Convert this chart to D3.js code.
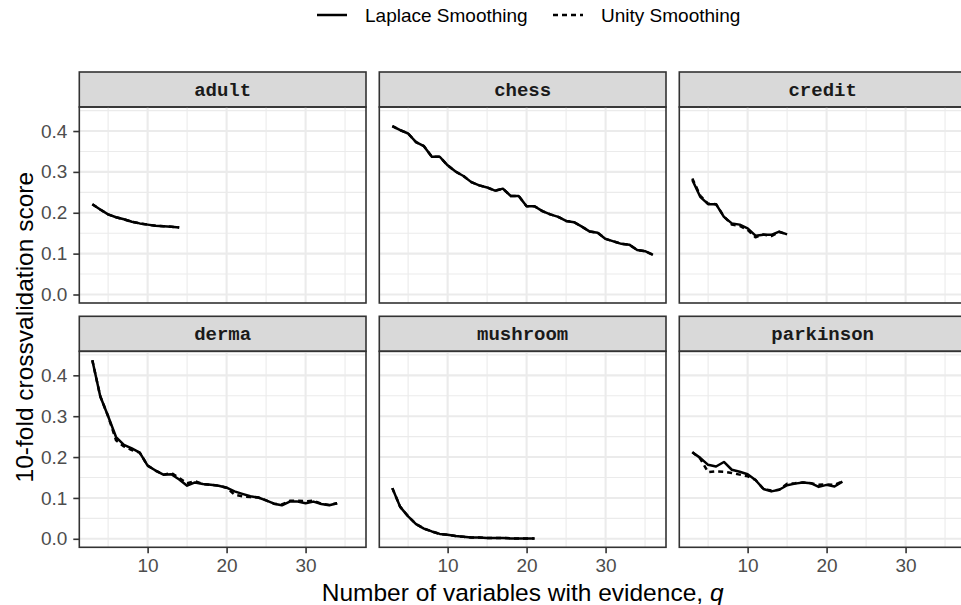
<!DOCTYPE html>
<html>
<head>
<meta charset="utf-8">
<script src="https://cdn.jsdelivr.net/npm/d3@7/dist/d3.min.js"></script>
<style>
  body { margin: 0; background: #fff; }
  svg { display: block; font-family: "Liberation Sans", Arial, sans-serif; }
</style>
</head>
<body>
<div id="chart"></div>
<script>
// facets and series
const datasets = ["adult", "chess", "credit", "derma", "mushroom", "parkinson"];
const methods = ["Laplace Smoothing", "Unity Smoothing"];
const qStart = 3; // first number of evidence variables in every run

const adultLaplace = [0.221, 0.208, 0.196, 0.189, 0.184, 0.178, 0.174, 0.171, 0.168, 0.167, 0.166, 0.164];
const adultUnity = [0.221, 0.208, 0.196, 0.189, 0.184, 0.178, 0.174, 0.171, 0.168, 0.167, 0.166, 0.164];

const chessLaplace = [0.412, 0.402, 0.394, 0.373, 0.363, 0.337, 0.337, 0.316, 0.301, 0.290, 0.275, 0.267,
  0.262, 0.254, 0.259, 0.241, 0.241, 0.216, 0.216, 0.204, 0.196, 0.190, 0.180, 0.177, 0.166, 0.154,
  0.151, 0.136, 0.130, 0.124, 0.122, 0.109, 0.106, 0.097];
const chessUnity = [0.412, 0.402, 0.394, 0.373, 0.363, 0.337, 0.337, 0.316, 0.301, 0.290, 0.275, 0.267,
  0.262, 0.254, 0.259, 0.241, 0.241, 0.216, 0.216, 0.204, 0.196, 0.190, 0.180, 0.177, 0.166, 0.154,
  0.151, 0.136, 0.130, 0.124, 0.122, 0.109, 0.106, 0.097];

const creditLaplace = [0.280, 0.239, 0.221, 0.221, 0.190, 0.174, 0.171, 0.162, 0.144, 0.146, 0.146, 0.154, 0.147];
const creditUnity = [0.284, 0.242, 0.222, 0.221, 0.191, 0.171, 0.168, 0.158, 0.140, 0.147, 0.143, 0.153, 0.147];

const dermaLaplace = [0.437, 0.349, 0.300, 0.249, 0.230, 0.221, 0.211, 0.179, 0.167, 0.157, 0.158, 0.145,
  0.130, 0.138, 0.134, 0.132, 0.130, 0.125, 0.116, 0.110, 0.104, 0.101, 0.094, 0.086, 0.082, 0.091,
  0.091, 0.087, 0.091, 0.085, 0.082, 0.087];
const dermaUnity = [0.437, 0.349, 0.300, 0.241, 0.226, 0.217, 0.211, 0.179, 0.167, 0.157, 0.161, 0.149,
  0.136, 0.141, 0.134, 0.132, 0.130, 0.125, 0.108, 0.104, 0.102, 0.101, 0.094, 0.086, 0.084, 0.093,
  0.093, 0.092, 0.093, 0.086, 0.083, 0.087];

const mushroomLaplace = [0.124, 0.078, 0.055, 0.036, 0.025, 0.018, 0.012, 0.010, 0.007, 0.005, 0.003,
  0.003, 0.002, 0.002, 0.002, 0.001, 0.001, 0.001, 0.001];
const mushroomUnity = [0.124, 0.078, 0.055, 0.036, 0.025, 0.018, 0.012, 0.010, 0.007, 0.005, 0.003,
  0.003, 0.002, 0.002, 0.002, 0.001, 0.001, 0.001, 0.001];

const parkinsonLaplace = [0.212, 0.198, 0.181, 0.177, 0.188, 0.169, 0.164, 0.158, 0.144, 0.122, 0.116,
  0.120, 0.131, 0.135, 0.138, 0.136, 0.127, 0.132, 0.128, 0.140];
const parkinsonUnity = [0.212, 0.196, 0.163, 0.165, 0.164, 0.161, 0.157, 0.153, 0.144, 0.122, 0.118,
  0.120, 0.135, 0.136, 0.138, 0.136, 0.132, 0.133, 0.132, 0.140];

const xTicks = [10, 20, 30];
const yTicks = [0.0, 0.1, 0.2, 0.3, 0.4];

const series = {
  adult: [adultLaplace, adultUnity],
  chess: [chessLaplace, chessUnity],
  credit: [creditLaplace, creditUnity],
  derma: [dermaLaplace, dermaUnity],
  mushroom: [mushroomLaplace, mushroomUnity],
  parkinson: [parkinsonLaplace, parkinsonUnity],
};

// turn a value list into {q, v} points
const toPoints = (vals) => vals.map((v, i) => ({ q: qStart + i, v: v }));

// layout
const W = 961, H = 605;
const leftX = 79.3, topY = 72;
const panelW = 286.7, panelH = 196, stripH = 35, gap = 13.3;

const svg = d3
  .select("#chart")
  .append("svg")
  .attr("width", W)
  .attr("height", H);

// shared scales, with ggplot's 5% expansion
const allPts = datasets.flatMap((d) => series[d].flatMap(toPoints));
const qExt = d3.extent(allPts, (d) => d.q);
const vExt = d3.extent(allPts, (d) => d.v);
const qPad = (qExt[1] - qExt[0]) * 0.05;
const vPad = (vExt[1] - vExt[0]) * 0.05;

const x = d3.scaleLinear().domain([qExt[0] - qPad, qExt[1] + qPad]).range([0, panelW]);
const y = d3.scaleLinear().domain([vExt[0] - vPad, vExt[1] + vPad]).range([panelH, 0]);

const line = d3
  .line()
  .x((d) => x(d.q))
  .y((d) => y(d.v));

const xMinor = [5, 15, 25, 35];
const yMinor = [0.05, 0.15, 0.25, 0.35, 0.45];

datasets.forEach((name, i) => {
  const col = i % 3, row = Math.floor(i / 3);
  const px = leftX + col * (panelW + gap);
  const py = topY + row * (stripH + panelH + gap);

  const g = svg.append("g").attr("transform", `translate(${px},${py})`);

  // strip
  g.append("rect")
    .attr("width", panelW)
    .attr("height", stripH)
    .attr("fill", "#D9D9D9")
    .attr("stroke", "#333333")
    .attr("stroke-width", 1.6);
  g.append("text")
    .attr("x", panelW / 2)
    .attr("y", stripH / 2 + 1)
    .attr("text-anchor", "middle")
    .attr("dominant-baseline", "central")
    .style("font-family", '"Liberation Mono", "Courier New", monospace')
    .style("font-weight", "bold")
    .style("font-size", "19px")
    .attr("fill", "#1A1A1A")
    .text(name);

  const p = g.append("g").attr("transform", `translate(0,${stripH})`);

  // minor grid
  p.selectAll(".xminor")
    .data(xMinor)
    .join("line")
    .attr("x1", (d) => x(d)).attr("x2", (d) => x(d))
    .attr("y1", 0).attr("y2", panelH)
    .attr("stroke", "#EBEBEB").attr("stroke-width", 1.1);
  p.selectAll(".yminor")
    .data(yMinor)
    .join("line")
    .attr("x1", 0).attr("x2", panelW)
    .attr("y1", (d) => y(d)).attr("y2", (d) => y(d))
    .attr("stroke", "#EBEBEB").attr("stroke-width", 1.1);

  // major grid
  p.selectAll(".xmajor")
    .data(xTicks)
    .join("line")
    .attr("x1", (d) => x(d)).attr("x2", (d) => x(d))
    .attr("y1", 0).attr("y2", panelH)
    .attr("stroke", "#EBEBEB").attr("stroke-width", 2.1);
  p.selectAll(".ymajor")
    .data(yTicks)
    .join("line")
    .attr("x1", 0).attr("x2", panelW)
    .attr("y1", (d) => y(d)).attr("y2", (d) => y(d))
    .attr("stroke", "#EBEBEB").attr("stroke-width", 2.1);

  // lines: Laplace solid, Unity dashed
  series[name].forEach((vals, k) => {
    p.append("path")
      .datum(toPoints(vals))
      .attr("fill", "none")
      .attr("stroke", "black")
      .attr("stroke-width", 2.5)
      .attr("stroke-linejoin", "round")
      .attr("stroke-dasharray", k === 1 ? "5,4" : null)
      .attr("d", line);
  });

  // panel border
  p.append("rect")
    .attr("width", panelW)
    .attr("height", panelH)
    .attr("fill", "none")
    .attr("stroke", "#333333")
    .attr("stroke-width", 1.6);

  // y axis on the first column
  if (col === 0) {
    const ay = p.append("g").call(d3.axisLeft(y).tickValues(yTicks).tickFormat(d3.format(".1f")).tickSize(6).tickPadding(6));
    ay.select(".domain").remove();
    ay.selectAll("line").attr("stroke", "#333333").attr("stroke-width", 1.6);
    ay.selectAll("text").attr("fill", "#4D4D4D").style("font-size", "19px").style("font-family", '"Liberation Sans", Arial, sans-serif');
  }

  // x axis on the bottom row
  if (row === 1) {
    const ax = p.append("g")
      .attr("transform", `translate(0,${panelH})`)
      .call(d3.axisBottom(x).tickValues(xTicks).tickSize(6).tickPadding(5));
    ax.select(".domain").remove();
    ax.selectAll("line").attr("stroke", "#333333").attr("stroke-width", 1.6);
    ax.selectAll("text").attr("fill", "#4D4D4D").style("font-size", "19px").style("font-family", '"Liberation Sans", Arial, sans-serif');
  }
});

// axis titles
const xTitle = svg.append("text")
  .attr("x", leftX + (3 * panelW + 2 * gap) / 2)
  .attr("y", 601)
  .attr("text-anchor", "middle")
  .style("font-size", "24.5px")
  .attr("fill", "black");
xTitle.append("tspan").text("Number of variables with evidence, ");
xTitle.append("tspan").style("font-style", "italic").text("q");

// y title centred on the panels below the first strip row
svg.append("text")
  .attr("transform", `translate(33,${topY + stripH + (2 * panelH + stripH + gap) / 2}) rotate(-90)`)
  .attr("text-anchor", "middle")
  .style("font-size", "24.5px")
  .attr("fill", "black")
  .text("10-fold crossvalidation score");

// legend
const legendItems = [
  { label: methods[0], x: 317, dash: null },
  { label: methods[1], x: 553, dash: "5,4" },
];
const legend = svg.selectAll(".legend")
  .data(legendItems)
  .join("g")
  .attr("transform", (d) => `translate(${d.x},15)`);
legend.append("line")
  .attr("x1", 0).attr("x2", 30)
  .attr("stroke", "black")
  .attr("stroke-width", 2.5)
  .attr("stroke-dasharray", (d) => d.dash);
legend.append("text")
  .attr("x", 48)
  .attr("y", 0)
  .attr("dominant-baseline", "central")
  .style("font-size", "19px")
  .attr("fill", "black")
  .text((d) => d.label);
</script>
</body>
</html>
